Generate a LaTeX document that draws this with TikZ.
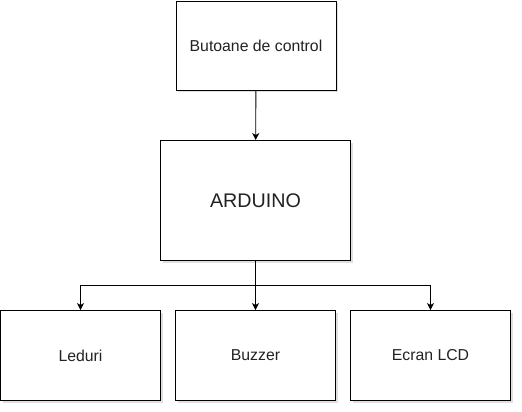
\documentclass[tikz,border=0pt]{standalone}
\usepackage{fontspec}
\setmainfont{Liberation Sans}
\usepackage{tikz}
\usetikzlibrary{arrows.meta}
\usetikzlibrary{shadows}

\definecolor{txtgray}{RGB}{34,34,34}

\begin{document}
\begin{tikzpicture}[x=1pt,y=-1pt,
        blok/.style={draw, line width=0.9pt, fill=white, rectangle, text=txtgray,
            minimum width=160pt, minimum height=90pt, inner sep=0pt,
            drop shadow={opacity=0.25, shadow xshift=2pt, shadow yshift=-2pt}},
        sag/.style={line width=0.9pt, -{Stealth[length=7pt,width=7pt,inset=2pt]}}]
        \useasboundingbox (0,0) rectangle (522,412);
        \node[blok, minimum height=89pt, font=\fontsize{15.8}{18}\selectfont] (buton) at (256,45.5) {Butoane de control};
        \node[blok, minimum width=190pt, minimum height=120pt, font=\fontsize{19.7}{22}\selectfont] (ard) at (255.5,200.5) {ARDUINO};
        \foreach \nume/\eticheta/\xx in {led/Leduri/80.5, buzz/Buzzer/255.5, lcd/Ecran LCD/430.5} {
            \node[blok, font=\fontsize{15.8}{18}\selectfont] (\nume) at (\xx,355.5) {\eticheta};}
        \coordinate (ram) at (255.5,285);
        \draw[sag] (buton) -- (ard);
        \foreach \nume in {led, buzz, lcd} {
            \draw[sag] (ard.south) -- (ram) -| (\nume.north);}
        \end{tikzpicture}
\end{document}
